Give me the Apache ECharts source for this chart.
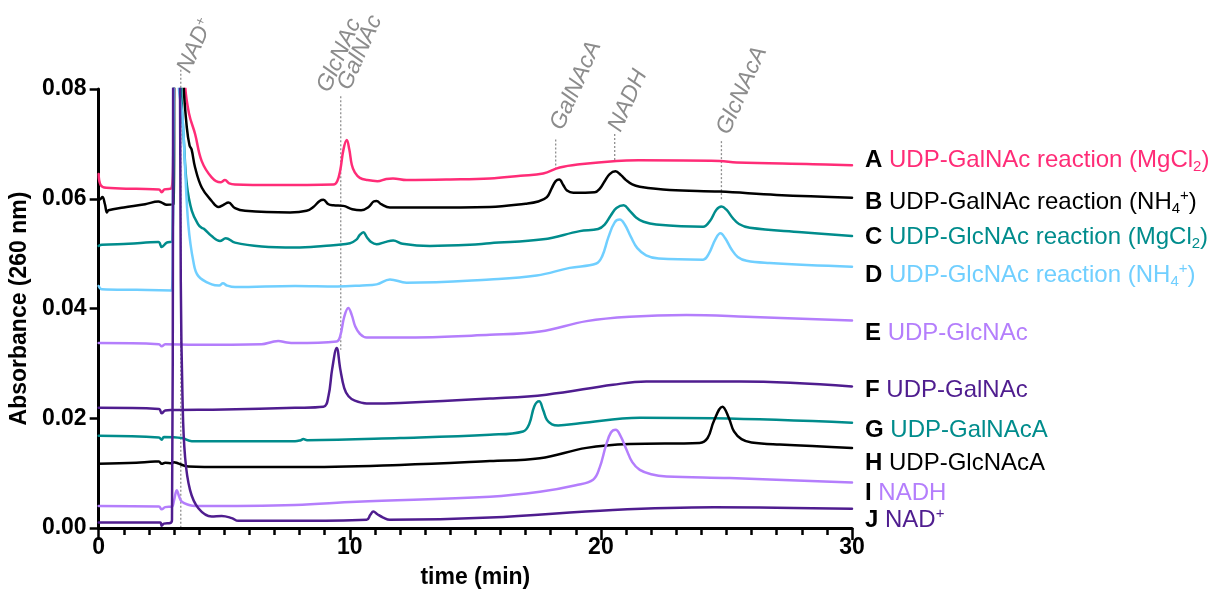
<!DOCTYPE html>
<html>
<head>
<meta charset="utf-8">
<title>HPLC traces</title>
<script src="https://cdn.jsdelivr.net/npm/echarts@6/dist/echarts.min.js"></script>
<style>
  html, body { margin: 0; padding: 0; background: #fff; }
  #chart { width: 1217px; height: 602px; }
</style>
</head>
<body>
<div id="chart"></div>
<script>
// time (min), absorbance (260 nm)
const traceA = [[0,0.0645],[0.08,0.0625],[0.3,0.0620],[1.5,0.0618],[2.4,0.0617],[2.51,0.0612],[2.62,0.0617],[2.9,0.0619],[2.97,0.068],[3.03,0.10],[3.2,0.13],[3.35,0.10],[3.44,0.0809],[3.6,0.0755],[3.84,0.0718],[4.1,0.0669],[4.5,0.0639],[4.85,0.0630],[5.03,0.0634],[5.2,0.0628],[5.43,0.0626],[7,0.0625],[9.35,0.0626],[9.5,0.0632],[9.62,0.0652],[9.75,0.0690],[9.88,0.0707],[9.98,0.0690],[10.08,0.0662],[10.2,0.0648],[10.4,0.0638],[10.7,0.0634],[11.1,0.0632],[11.45,0.0636],[11.72,0.0637],[12.26,0.0634],[14,0.0635],[15.58,0.0637],[16.8,0.0642],[17.7,0.0646],[18.36,0.0657],[19.16,0.0663],[20.62,0.0669],[21.5,0.0670],[24.73,0.0669],[25.4,0.0666],[28.45,0.0663],[30,0.0661]];
const traceB = [[0,0.0598],[0.06,0.0599],[0.15,0.0603],[0.25,0.0590],[0.33,0.0575],[0.39,0.0579],[1.0,0.0584],[1.85,0.0590],[2.38,0.0595],[2.51,0.0593],[2.71,0.0589],[2.98,0.0590],[3.03,0.10],[3.2,0.13],[3.3,0.095],[3.38,0.0809],[3.51,0.0730],[3.62,0.0697],[3.7,0.0690],[3.84,0.0657],[4.11,0.0620],[4.5,0.0596],[4.77,0.0585],[4.97,0.0589],[5.17,0.0593],[5.43,0.0583],[5.83,0.0578],[7.62,0.0575],[8.28,0.0578],[8.55,0.0585],[8.8,0.0596],[8.95,0.0598],[9.15,0.0590],[9.35,0.0588],[9.74,0.0587],[10.1,0.0581],[10.45,0.0579],[10.75,0.0585],[10.95,0.0595],[11.07,0.0596],[11.25,0.0590],[11.6,0.0584],[13,0.0584],[15.58,0.0585],[17.0,0.0591],[17.5,0.0595],[17.85,0.0603],[18.05,0.0620],[18.2,0.0632],[18.34,0.0635],[18.5,0.0625],[18.65,0.0615],[18.9,0.0611],[19.76,0.0612],[19.95,0.0618],[20.15,0.0632],[20.35,0.0645],[20.58,0.0650],[20.8,0.0643],[21.0,0.0634],[21.25,0.0626],[21.55,0.0622],[22.74,0.0616],[24.73,0.0613],[27,0.0607],[30,0.0602]];
const traceC = [[0,0.0514],[0.13,0.0516],[1.19,0.0518],[2.38,0.0521],[2.51,0.0512],[2.71,0.0520],[2.94,0.0523],[3.0,0.09],[3.15,0.12],[3.28,0.081],[3.4,0.070],[3.51,0.0626],[3.71,0.0578],[3.97,0.0553],[4.1,0.0547],[4.2,0.0545],[4.5,0.0532],[4.83,0.0523],[5.06,0.0528],[5.43,0.0520],[6.49,0.0513],[7.82,0.0511],[8.95,0.0514],[10.01,0.0519],[10.25,0.0525],[10.4,0.0534],[10.54,0.0539],[10.68,0.0530],[10.85,0.0521],[11.07,0.0517],[11.4,0.0521],[11.73,0.0524],[12.1,0.0518],[13.19,0.0514],[14.78,0.0516],[15.58,0.0519],[17.7,0.0526],[19.16,0.0541],[19.89,0.0545],[20.15,0.0553],[20.4,0.0570],[20.62,0.0583],[20.91,0.0588],[21.15,0.0578],[21.4,0.0566],[21.7,0.0558],[22.2,0.0553],[24.07,0.0549],[24.35,0.0560],[24.6,0.0580],[24.8,0.0586],[25.0,0.0580],[25.25,0.0565],[25.5,0.0554],[25.93,0.0547],[28,0.0539],[30,0.0532]];
const traceD = [[0,0.0441],[0.13,0.0435],[1.5,0.0434],[2.91,0.0433],[2.97,0.07],[3.05,0.11],[3.18,0.081],[3.34,0.0748],[3.44,0.0657],[3.57,0.0553],[3.77,0.0486],[3.97,0.0459],[4.5,0.0444],[4.8,0.0442],[4.95,0.0446],[5.1,0.0442],[5.43,0.0439],[7.82,0.0441],[9.5,0.0440],[10.5,0.0442],[11.07,0.0444],[11.6,0.0453],[12.26,0.0447],[15.58,0.0453],[17.44,0.0460],[18.76,0.0474],[19.82,0.0482],[20.05,0.0495],[20.3,0.0530],[20.55,0.0557],[20.75,0.0562],[20.95,0.0553],[21.2,0.0530],[21.45,0.0510],[21.8,0.0497],[22.3,0.0491],[24.07,0.0489],[24.3,0.0500],[24.55,0.0525],[24.76,0.0537],[24.95,0.0528],[25.2,0.0508],[25.45,0.0494],[25.8,0.0487],[26.72,0.0483],[30,0.0476]];
const traceE = [[0,0.0337],[2.4,0.0335],[2.51,0.0331],[2.65,0.0335],[3.84,0.0334],[6.49,0.0335],[6.9,0.0339],[7.15,0.0341],[7.5,0.0338],[7.82,0.0337],[9.48,0.0340],[9.62,0.0350],[9.78,0.0385],[9.94,0.0401],[10.08,0.0388],[10.22,0.0367],[10.4,0.0354],[10.67,0.0347],[12,0.0347],[15.58,0.0352],[17.57,0.0358],[19.43,0.0377],[21.15,0.0385],[23.4,0.0388],[25.8,0.0385],[30,0.0378]];
const traceF = [[0,0.0219],[2.4,0.0217],[2.51,0.0209],[2.65,0.0214],[2.91,0.0215],[5,0.0216],[7.82,0.0219],[8.95,0.0221],[9.15,0.0240],[9.3,0.0290],[9.48,0.0328],[9.62,0.0290],[9.78,0.0255],[9.95,0.0240],[10.2,0.0232],[10.67,0.0227],[12,0.0228],[15.58,0.0236],[17.83,0.0243],[20.48,0.0261],[21.81,0.0267],[25.53,0.0267],[30,0.0258]];
const traceG = [[0,0.0168],[2.4,0.0165],[2.51,0.0161],[2.6,0.0166],[3.31,0.0164],[3.71,0.0158],[7.82,0.0158],[8.05,0.0160],[8.15,0.0162],[8.3,0.0160],[12,0.0164],[15.58,0.0170],[16.9,0.0176],[17.15,0.0190],[17.35,0.0222],[17.54,0.0231],[17.7,0.0215],[17.85,0.0197],[18.05,0.0189],[18.3,0.0187],[19.16,0.0191],[21.55,0.0201],[24.51,0.0200],[30,0.0192]];
const traceH = [[0,0.0117],[1.5,0.0119],[2.25,0.0121],[2.4,0.0121],[2.51,0.0117],[2.65,0.0119],[2.91,0.0118],[3.0,0.0120],[3.15,0.0118],[3.57,0.0112],[5,0.0111],[7.82,0.0111],[12,0.0115],[15.58,0.0122],[17.57,0.0127],[19.43,0.0146],[21.15,0.0153],[23.93,0.0155],[24.25,0.0164],[24.5,0.0195],[24.84,0.0221],[25.1,0.0200],[25.3,0.0176],[25.6,0.0162],[26,0.0156],[27.12,0.0152],[30,0.0146]];
const traceI = [[0,0.0040],[2.4,0.0039],[2.51,0.0034],[2.65,0.0038],[2.91,0.0039],[3.0,0.0050],[3.11,0.0069],[3.2,0.0058],[3.31,0.0048],[3.6,0.0042],[3.84,0.0040],[7.82,0.0042],[10.27,0.0048],[15.58,0.0057],[17.57,0.0066],[19.0,0.0078],[19.69,0.0088],[19.95,0.0110],[20.2,0.0150],[20.4,0.0174],[20.59,0.0179],[20.78,0.0168],[21.0,0.0145],[21.25,0.0120],[21.55,0.0106],[22.0,0.0098],[22.61,0.0094],[25.13,0.0091],[30,0.0083]];
const traceJ = [[0,0.0010],[2.45,0.0010],[2.51,0.0004],[2.6,0.0008],[2.85,0.0009],[2.92,0.0015],[2.96,0.06],[3.02,0.20],[3.15,0.25],[3.22,0.12],[3.27,0.045],[3.34,0.0234],[3.44,0.0130],[3.64,0.0069],[3.97,0.0036],[4.5,0.0021],[4.9,0.0022],[5.3,0.0018],[5.56,0.0013],[7.82,0.0013],[10.67,0.0015],[10.82,0.0024],[10.94,0.0030],[11.1,0.0025],[11.33,0.0019],[11.6,0.0015],[15.58,0.0019],[20.48,0.0033],[24.51,0.0038],[30,0.0035]];

// peak annotations: label, dotted line x (min), line top / bottom (absorbance), label anchor (min, absorbance)
const peakNames = ['NAD{s|+}', 'GlcNAc', 'GalNAc', 'GalNAcA', 'NADH', 'GlcNAcA'];
const peakLineX = [3.27, null, 9.64, 18.2, 20.55, 24.8];
const peakLineTop = [0.0835, null, 0.0787, 0.0708, 0.0718, 0.0705];
const peakLineBottom = [0.0, null, 0.0325, 0.0654, 0.0667, 0.0599];
const peakLabelAt = [[3.8, 0.0823], [9.37, 0.0788], [10.18, 0.0792], [18.66, 0.0719], [20.97, 0.0716], [25.28, 0.0711]];

const FONT = '"Liberation Sans", Arial, Helvetica, sans-serif';
const PINK = '#FF2C77';
const BLACK = '#000000';
const TEAL = '#008C8C';
const SKY = '#70CFFF';
const LILAC = '#B47EFC';
const PURPLE = '#4F1D8F';

const traces = [
  { key: 'A', data: traceA, color: PINK, text: 'UDP-GalNAc reaction (MgCl{b|2})', top: 160 },
  { key: 'B', data: traceB, color: BLACK, text: 'UDP-GalNAc reaction (NH{b|4}{s|+})', top: 202 },
  { key: 'C', data: traceC, color: TEAL, text: 'UDP-GlcNAc reaction (MgCl{b|2})', top: 237 },
  { key: 'D', data: traceD, color: SKY, text: 'UDP-GlcNAc reaction (NH{b|4}{s|+})', top: 275 },
  { key: 'E', data: traceE, color: LILAC, text: 'UDP-GlcNAc', top: 333 },
  { key: 'F', data: traceF, color: PURPLE, text: 'UDP-GalNAc', top: 390 },
  { key: 'G', data: traceG, color: TEAL, text: 'UDP-GalNAcA', top: 430 },
  { key: 'H', data: traceH, color: BLACK, text: 'UDP-GlcNAcA', top: 463 },
  { key: 'I', data: traceI, color: LILAC, text: 'NADH', top: 493 },
  { key: 'J', data: traceJ, color: PURPLE, text: 'NAD{s|+}', top: 520 }
];

const chart = echarts.init(document.getElementById('chart'), null, { renderer: 'canvas' });

const axisFont = { fontFamily: FONT, fontWeight: 'bold', fontSize: 23, color: '#000' };

chart.setOption({
  animation: false,
  backgroundColor: '#fff',
  grid: { left: 98, top: 89, width: 754, height: 439 },
  xAxis: {
    type: 'value', min: 0, max: 30, interval: 10,
    name: 'time (min)', nameLocation: 'middle', nameGap: 38,
    nameTextStyle: axisFont,
    axisLine: { lineStyle: { color: '#000', width: 3 } },
    axisTick: { length: 12, lineStyle: { color: '#000', width: 2.5 } },
    minorTick: { show: true, splitNumber: 10, length: 7, lineStyle: { color: '#000', width: 2.5 } },
    axisLabel: Object.assign({ margin: 8 }, axisFont),
    splitLine: { show: false }
  },
  yAxis: {
    type: 'value', min: 0, max: 0.08, interval: 0.02,
    name: 'Absorbance (260 nm)', nameLocation: 'middle', nameGap: 60,
    nameTextStyle: axisFont,
    axisLine: { show: true, lineStyle: { color: '#000', width: 3 } },
    axisTick: { show: true, length: 9, lineStyle: { color: '#000', width: 2.5 } },
    axisLabel: Object.assign({ margin: 12, formatter: v => v.toFixed(2) }, axisFont),
    splitLine: { show: false }
  },
  series: traces.map(t => ({
    name: t.key,
    type: 'line',
    data: t.data,
    showSymbol: false,
    smooth: 0.4,
    clip: true,
    lineStyle: { color: t.color, width: 2.5, join: 'round', cap: 'round' },
    emphasis: { disabled: true }
  }))
});

// annotations and trace labels, placed through the axis scales
const toPx = p => chart.convertToPixel({ gridIndex: 0 }, p);
const graphics = [];

peakNames.forEach((name, i) => {
  if (peakLineX[i] !== null) {
    const a = toPx([peakLineX[i], peakLineTop[i]]);
    const b = toPx([peakLineX[i], peakLineBottom[i]]);
    graphics.push({
      type: 'line', z: 0, silent: true,
      shape: { x1: a[0], y1: a[1], x2: b[0], y2: b[1] },
      style: { stroke: '#8f8f8f', lineWidth: 1.3, lineDash: [2, 2] }
    });
  }
  const p = toPx(peakLabelAt[i]);
  graphics.push({
    type: 'text', z: 10, silent: true,
    x: p[0], y: p[1], rotation: 66 * Math.PI / 180,
    style: {
      text: name, x: 0, y: 0, align: 'left', verticalAlign: 'bottom',
      fill: '#8c8c8c', fontFamily: FONT, fontStyle: 'italic', fontSize: 23,
      rich: {
        s: { fontSize: 14, fontStyle: 'italic', fill: '#8c8c8c', fontFamily: FONT, verticalAlign: 'top', lineHeight: 14 }
      }
    }
  });
});

traces.forEach(t => {
  graphics.push({
    type: 'text', z: 10, silent: true,
    x: 865, y: t.top,
    style: {
      text: '{k|' + t.key + '} ' + t.text,
      x: 0, y: 0, align: 'left', verticalAlign: 'middle',
      fill: t.color, fontFamily: FONT, fontSize: 24, lineHeight: 28,
      rich: {
        k: { fontWeight: 'bold', fill: '#000', fontFamily: FONT, fontSize: 24, lineHeight: 28 },
        b: { fill: t.color, fontFamily: FONT, fontSize: 15, lineHeight: 15, verticalAlign: 'bottom' },
        s: { fill: t.color, fontFamily: FONT, fontSize: 15, lineHeight: 15, verticalAlign: 'top' }
      }
    }
  });
});

chart.setOption({ graphic: graphics });
</script>
</body>
</html>
